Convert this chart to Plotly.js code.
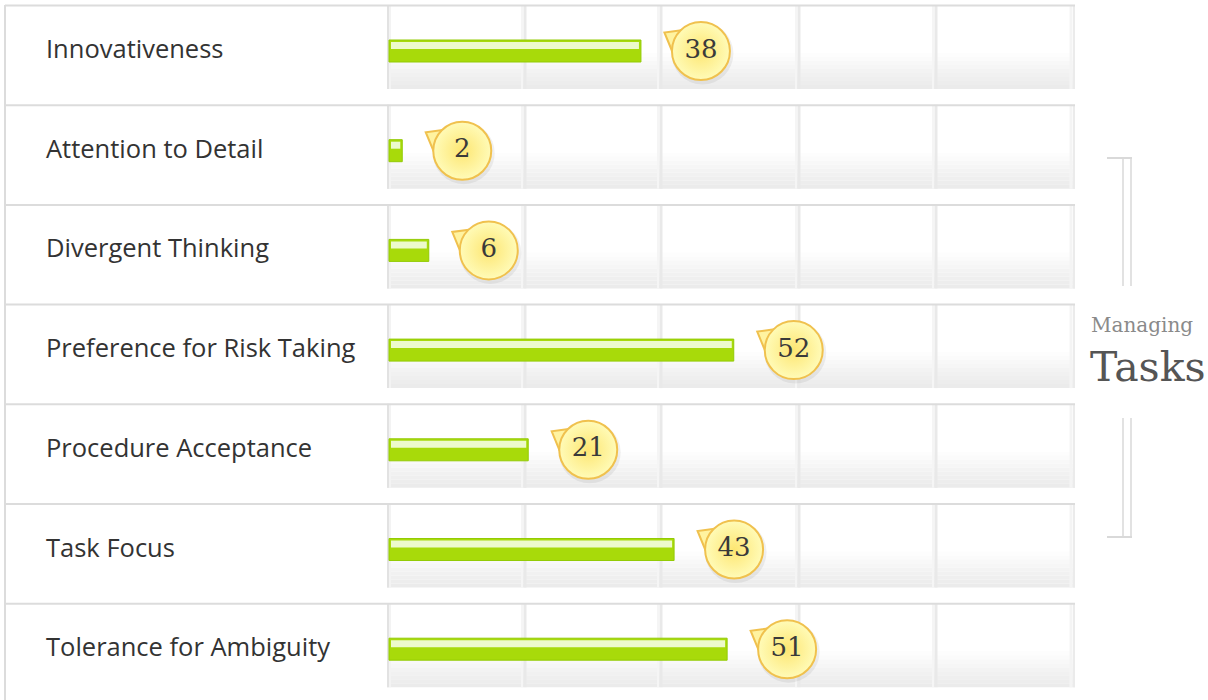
<!DOCTYPE html>
<html>
<head>
<meta charset="utf-8">
<script src="https://cdn.plot.ly/plotly-3.0.1.min.js"></script>
<style>html,body{margin:0;padding:0;background:#fff;}#chart{width:1208px;height:700px;}</style>
</head>
<body>
<div id="chart"></div>
<script>
// ---- data ----
const categories = ['Innovativeness','Attention to Detail','Divergent Thinking','Preference for Risk Taking','Procedure Acceptance','Task Focus','Tolerance for Ambiguity'];
const values = [38, 2, 6, 52, 21, 43, 51];
const groupSmall = 'Managing';
const groupLarge = 'Tasks';

// ---- geometry helpers (layout only) ----
const W = 1208, H = 700;
const L = 387, R = 1075, T = 5, B = 700;
const pitch = 99.7, barOff = 46, panelH = 84;
const pxPerUnit = 6.63;
const xr0 = -2 / pxPerUnit, xr1 = xr0 + (R - L) / pxPerUnit;
const yr0 = (B - T - barOff) / pitch, yr1 = -barOff / pitch;
const px = x => (x - L) / (R - L);
const py = y => 1 - (y - T) / (B - T);
const rowTop = i => T + pitch * i;

const idx = categories.map((c, i) => i);
const unitY = 1 / pitch;       // data units per pixel (y)
const unitX = 1 / pxPerUnit;   // data units per pixel (x)

// ---- decoration shapes ----
const shapes = [];
function rect(x0, y0, x1, y1, color) {
  shapes.push({type:'rect', xref:'paper', yref:'paper', x0:px(x0), x1:px(x1), y0:py(y1), y1:py(y0),
    fillcolor:color, line:{width:0}, layer:'below'});
}
function line(x0, y0, x1, y1, color, w) {
  shapes.push({type:'line', xref:'paper', yref:'paper', x0:px(x0), x1:px(x1), y0:py(y0), y1:py(y1),
    line:{color:color, width:w}, layer:'below'});
}
const bandCols = ['#fdfdfd','#fbfbfb','#f8f8f8','#f6f6f6','#f3f3f3','#f1f1f1','#efefef','#ededed','#ebebeb'];
categories.forEach((c, i) => {
  const t = rowTop(i);
  bandCols.forEach((col, k) => {
    rect(L, t + 48 + k * 4, R, t + 48 + (k + 1) * 4, col);
  });
  line(L + 1, t, L + 1, t + panelH, '#e2e2e2', 2);
  line(L + 3, t, L + 3, t + panelH, '#f3f3f3', 2);
  line(R - 1, t, R - 1, t + panelH, '#ebebeb', 2);
  line(R - 4, t, R - 4, t + panelH, '#f4f4f4', 3);
  [525, 661, 799, 936].forEach(gx => {
    line(gx, t, gx, t + panelH, '#e9e9e9', 3);
    line(gx - 3, t, gx - 3, t + panelH, '#f5f5f5', 2);
  });
  line(5, t + 0.5, R, t + 0.5, '#dcdcdc', 2);
});
line(5, T, 5, H, '#dcdcdc', 2);
const bc = '#d9d9d9';
line(1107, 158, 1132, 158, bc, 2);
line(1123, 158, 1123, 286, bc, 1.5);
line(1131, 158, 1131, 286, bc, 1.5);
line(1123, 418, 1123, 537, bc, 1.5);
line(1131, 418, 1131, 537, bc, 1.5);
line(1107, 537, 1132, 537, bc, 2);

// ---- traces ----
const bars = {
  type:'bar', orientation:'h', x: values, y: idx,
  width: 22 * unitY, offset: -11 * unitY,
  marker:{color:'#a8da0a', line:{color:'#93cb05', width:1}},
  hoverinfo:'skip', showlegend:false
};
const gloss = {
  type:'bar', orientation:'h', x: values.map(v => Math.max(v - 0.6, 0.4)), base: 0.3, y: idx,
  width: 7 * unitY, offset: -9 * unitY,
  marker:{color:'rgba(240,252,214,0.95)', line:{width:0}},
  hoverinfo:'skip', showlegend:false
};
const bubbleDX = 60 * unitX;
const shadow = {
  type:'scatter', mode:'markers', x: values.map(v => v + bubbleDX + 1.5 * unitX), y: idx.map(i => i + 2.5 * unitY),
  marker:{size:62, color:'rgba(0,0,0,0.06)', line:{width:0}},
  hoverinfo:'skip', showlegend:false
};
const tails = {
  type:'scatter', mode:'markers', x: values.map(v => v + bubbleDX - 27 * unitX), y: idx.map(i => i - 13 * unitY),
  marker:{symbol:'triangle-left', angle:30, size:22, color:'#fff3a0', line:{color:'#f0c14e', width:2}},
  hoverinfo:'skip', showlegend:false
};
const bubbles = {
  type:'scatter', mode:'markers+text', x: values.map(v => v + bubbleDX), y: idx,
  text: values.map(String), textposition:'middle center',
  textfont:{family:'DejaVu Serif, serif', size:26, color:'#3a3a3a'},
  marker:{size:58, color:'#fffbb8', gradient:{type:'radial', color:'#fde672'}, line:{color:'#f0c14e', width:2}},
  hoverinfo:'skip', showlegend:false
};

// ---- annotations ----
const annotations = categories.map((c, i) => ({
  text: c, xref:'paper', yref:'y', x: px(44), y: i, yshift: 3,
  xanchor:'left', yanchor:'middle', showarrow:false,
  font:{family:'Open Sans, sans-serif', size:25.5, color:'#333333'}
}));
annotations.push({text: groupSmall, xref:'paper', yref:'paper', x: px(1089), y: py(325),
  xanchor:'left', yanchor:'middle', showarrow:false,
  font:{family:'DejaVu Serif, serif', size:20, color:'#8a8a8a'}});
annotations.push({text: groupLarge, xref:'paper', yref:'paper', x: px(1088), y: py(367),
  xanchor:'left', yanchor:'middle', showarrow:false,
  font:{family:'DejaVu Serif, serif', size:41, color:'#555555'}});

const layout = {
  width: W, height: H, autosize:false,
  margin:{l:L, r:W - R, t:T, b:H - B, pad:0},
  paper_bgcolor:'#ffffff', plot_bgcolor:'rgba(0,0,0,0)',
  barmode:'overlay', showlegend:false,
  xaxis:{range:[xr0, xr1], visible:false, fixedrange:true},
  yaxis:{range:[yr0, yr1], visible:false, fixedrange:true},
  shapes: shapes, annotations: annotations
};
Plotly.newPlot('chart', [bars, gloss, shadow, tails, bubbles], layout, {displayModeBar:false, staticPlot:true});
</script>
</body>
</html>
